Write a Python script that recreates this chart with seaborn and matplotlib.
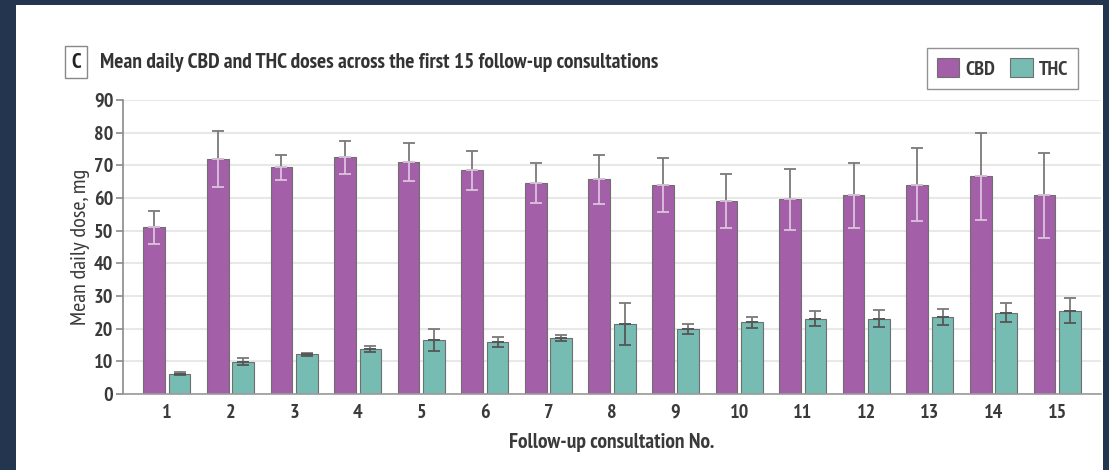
import matplotlib
matplotlib.use("Agg")
import matplotlib.pyplot as plt
import matplotlib.patches as mpatches
import seaborn as sns
import pandas as pd
import numpy as np

consultations = [str(i) for i in range(1, 16)]
cbd_mean = [51.0, 71.9, 69.4, 72.4, 71.0, 68.5, 64.6, 65.7, 64.0, 59.1, 59.6, 60.8, 64.1, 66.7, 60.8]
cbd_err = [5.0, 8.6, 3.9, 5.0, 5.8, 6.0, 6.1, 7.5, 8.2, 8.3, 9.4, 10.0, 11.2, 13.3, 13.1]
thc_mean = [6.2, 9.9, 12.1, 13.8, 16.5, 16.0, 17.1, 21.5, 19.9, 21.9, 23.1, 23.1, 23.5, 24.9, 25.5]
thc_err = [0.4, 1.0, 0.5, 1.0, 3.3, 1.5, 1.0, 6.5, 1.6, 1.8, 2.2, 2.5, 2.5, 2.9, 3.8]
series = ["CBD", "THC"]
colors = ["#a35fa7", "#76bcb2"]

title = "Mean daily CBD and THC doses across the first 15 follow-up consultations"
panel = "C"
ylabel = "Mean daily dose, mg"
xlabel = "Follow-up consultation No."

df = pd.DataFrame({
    "consult": consultations * 2,
    "dose": cbd_mean + thc_mean,
    "drug": ["CBD"] * 15 + ["THC"] * 15,
})

sns.set_theme(style="white")
FONT = ["PT Sans Narrow", "DejaVu Sans"]
plt.rcParams["font.family"] = FONT

W, H = 1109, 470
fig = plt.figure(figsize=(W / 100, H / 100), dpi=100)
fig.patch.set_facecolor("#24354f")
fig.patches.append(mpatches.Rectangle((16 / W, 0), (1103 - 16) / W, (H - 5) / H,
                                      transform=fig.transFigure, facecolor="white",
                                      edgecolor="none", zorder=-10))

ax = fig.add_axes([123 / W, (H - 394) / H, (1101 - 123) / W, (394 - 100) / H])
ax.set_facecolor("white")

sns.barplot(data=df, x="consult", y="dose", hue="drug", palette=colors,
            hue_order=series, width=0.8, gap=0.15, errorbar=None,
            edgecolor="#6f6f6f", linewidth=0.8, saturation=1, ax=ax, zorder=2)

# error bars
for cont, means, errs, name in zip(ax.containers, [cbd_mean, thc_mean], [cbd_err, thc_err], series):
    xs = [p.get_x() + p.get_width() / 2 for p in cont.patches]
    m = np.array(means)
    e = np.array(errs)
    z = np.zeros_like(e)
    ax.errorbar(xs, m, yerr=[z, e], fmt="none", ecolor="#7a7a7a", elinewidth=1.3,
                capsize=4, capthick=1.3, zorder=3)
    lower_col = "#dcc3dc" if name == "CBD" else "#555555"
    ax.errorbar(xs, m, yerr=[e, z], fmt="none", ecolor=lower_col, elinewidth=1.3,
                capsize=4, capthick=1.3, zorder=3)

ax.set_ylim(0, 90)
ax.set_xlim(-0.69, 14.69)
ax.set_yticks(range(0, 91, 10))
ax.yaxis.grid(True, color="#e8e8e8", linewidth=1.5, zorder=0)
ax.set_axisbelow(True)
for s in ["top", "right"]:
    ax.spines[s].set_visible(False)
ax.spines["left"].set_color("#8a8a8a")
ax.spines["left"].set_linewidth(1.2)
ax.spines["bottom"].set_color("#9a9a9a")
ax.spines["bottom"].set_linewidth(1.2)
ax.tick_params(axis="y", length=5, width=1.2, color="#8a8a8a", labelsize=14.5,
               labelcolor="#3a3a3a", pad=2, left=True)
ax.tick_params(axis="x", length=0, labelsize=14.5, labelcolor="#3a3a3a", pad=7)
for lab in ax.get_xticklabels() + ax.get_yticklabels():
    lab.set_fontweight("bold")

ax.set_ylabel(ylabel, fontsize=16, color="#3a3a3a", labelpad=3)
ax.set_xlabel(xlabel, fontsize=15.5, color="#3a3a3a", fontweight="bold", labelpad=8)

# legend
ax.get_legend().remove()
handles = [mpatches.Patch(facecolor=c, edgecolor="#6f6f6f", linewidth=0.8) for c in colors]
leg = fig.legend(handles, series, loc="upper right", bbox_to_anchor=(1078 / W, 1 - 48 / H),
                 borderaxespad=0, ncol=2, frameon=True, fancybox=False, handlelength=1.1,
                 handleheight=1.1, columnspacing=0.75, handletextpad=0.3, borderpad=0.5,
                 prop={"family": FONT, "weight": "bold", "size": 14.5})
leg.get_frame().set_edgecolor("#777777")
leg.get_frame().set_linewidth(1.0)
for t in leg.get_texts():
    t.set_color("#3a3a3a")

# panel label and title
fig.text(76 / W, 1 - 62 / H, panel, ha="center", va="center", fontsize=15,
         fontweight="bold", color="#222222",
         bbox=dict(boxstyle="square,pad=0.3", facecolor="white", edgecolor="#888888", linewidth=1.0))
fig.text(100 / W, 1 - 62 / H, title, ha="left", va="center", fontsize=15.5,
         fontweight="bold", color="#333333")

fig.savefig("out.png", dpi=100, facecolor=fig.get_facecolor())
